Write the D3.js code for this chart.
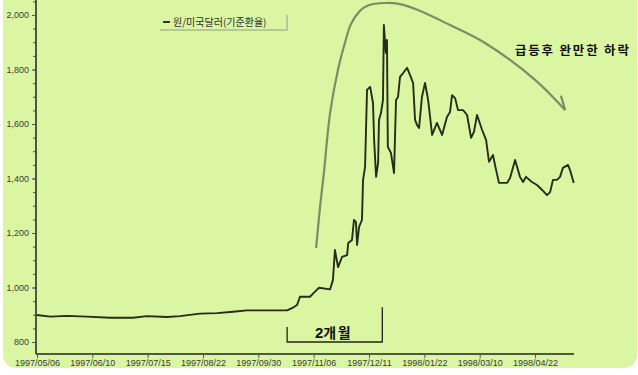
<!DOCTYPE html>
<html>
<head>
<meta charset="utf-8" />
<title>원/미국달러 기준환율</title>
<style>
  html, body { margin: 0; padding: 0; background: #ffffff; }
  #chart { display: block; }
  .tick text { font-family: Arial, "Liberation Sans", sans-serif; font-size: 9px; fill: #3a3a3a; }
  .kr { font-family: "Noto Sans CJK KR", sans-serif; }
</style>
</head>
<body>
<svg id="chart" width="638" height="375"></svg>
<script src="https://d3js.org/d3.v7.min.js"></script>
<script>
// x = trading-day number since 1997/05/06
const tickDays = [0, 25, 50, 75, 100, 125, 150, 175, 200, 225];
const tickLabels = ["1997/05/06", "1997/06/10", "1997/07/15", "1997/08/22", "1997/09/30",
                    "1997/11/06", "1997/12/11", "1998/01/22", "1998/03/10", "1998/04/22"];
const yTicks = [800, 1000, 1200, 1400, 1600, 1800, 2000];

const days = [0, 6, 13.6, 22.6, 33, 43.4, 49.7, 58.7, 64.6, 73.6, 81.3, 88.6, 94.9, 113,
  115.2, 117.5, 118.8, 123.3, 125.6, 127.4, 132.4, 133.7, 134.6, 136, 137.8, 140.1, 140.6,
  142.3, 143.2, 144.1, 144.6, 145.5, 146.8, 147.3, 148.2, 149.1, 150.5, 151.8, 152.3, 153.2,
  154.1, 154.5, 155.4, 156.3, 156.7, 157.6, 158.1, 158.5, 159.9, 161.3, 162.2, 163.1, 164,
  165.4, 167.2, 168.5, 169.9, 170.8, 171.7, 172.6, 173.9, 175.3, 176.7, 178.5, 180.7, 183,
  185.2, 186.6, 187.5, 188.9, 190.2, 192.5, 194.3, 196.1, 197.4, 198.8, 201.1, 202.9, 204.2,
  206, 206.9, 208.7, 212.4, 213.7, 216, 218.2, 219.6, 220.9, 223.6, 225.9, 228.2, 230.4,
  231.8, 233.1, 234.9, 236.3, 237.6, 239.9, 240.8, 242.5];
const rates = [899, 893, 896, 893, 889, 889, 895, 892, 895, 904, 906, 911, 916, 916,
  924, 936, 966, 966, 985, 999, 993, 1028, 1138, 1075, 1112, 1119, 1163,
  1174, 1248, 1240, 1156, 1222, 1248, 1395, 1442, 1725, 1736, 1677, 1541, 1406,
  1457, 1615, 1640, 1688, 1963, 1861, 1908, 1516, 1494, 1420, 1688, 1699, 1773,
  1787, 1806, 1780, 1751, 1615, 1596, 1585, 1699, 1751, 1688, 1560, 1604, 1560,
  1626, 1644, 1706, 1695, 1651, 1651, 1633, 1549, 1571, 1633, 1578, 1541, 1461,
  1486, 1450, 1384, 1384, 1402, 1468, 1406, 1387, 1406, 1387, 1376, 1358, 1339,
  1350, 1395, 1395, 1406, 1439, 1450, 1431, 1384];

// trend arrow drawn in data units
const arcDays = [126.1, 127.8, 129.6, 132.4, 136, 139.2, 141.9, 145.9, 149.5, 157.2, 164, 172.1, 186.6, 202.4, 225, 238.6];
const arcRates = [1145, 1290, 1420, 1640, 1800, 1900, 1968, 2015, 2035, 2044, 2040, 2018, 1963, 1897, 1762, 1651];
const arrowArm = [236.7, 1704];

const svg = d3.select("#chart");

// panel
svg.append("rect")
  .attr("x", 3).attr("y", -12)
  .attr("width", 634).attr("height", 380)
  .attr("rx", 13).attr("ry", 13)
  .attr("fill", "#daf6a2");

const x = d3.scaleLinear().domain([0, 242.6]).range([37, 574]);
const y = d3.scaleLinear().domain([756, 2055]).range([354, 0]);

// minor y ticks
svg.append("g")
  .attr("transform", "translate(36,0)")
  .call(d3.axisLeft(y).tickValues(d3.range(800, 2051, 50)).tickSize(3).tickFormat(""))
  .call(g => g.select(".domain").remove())
  .selectAll("line").attr("stroke", "#555");

const yAxis = svg.append("g")
  .attr("transform", "translate(36,0)")
  .call(d3.axisLeft(y).tickValues(yTicks).tickSize(4).tickPadding(3).tickFormat(d3.format(",")));
yAxis.select(".domain").attr("stroke", "#222").attr("stroke-width", 1.5).attr("d", "M0,0V354");
yAxis.selectAll(".tick line").attr("stroke", "#555");

const xAxis = svg.append("g")
  .attr("transform", "translate(0,354)")
  .call(d3.axisBottom(x).tickValues(tickDays).tickSize(4).tickPadding(2)
    .tickFormat((d, i) => tickLabels[i]));
xAxis.select(".domain").attr("stroke", "#222").attr("stroke-width", 1.5).attr("d", "M36,0H574");
xAxis.selectAll(".tick line").attr("stroke", "#555");

// exchange-rate line
const series = days.map((d, i) => [d, rates[i]]);
svg.append("path")
  .datum(series)
  .attr("fill", "none")
  .attr("stroke", "#252c1b")
  .attr("stroke-width", 1.9)
  .attr("stroke-linejoin", "round")
  .attr("d", d3.line().x(d => x(d[0])).y(d => y(d[1])));

// legend
const lg = svg.append("g");
lg.append("path").attr("d", "M287,15V30H160").attr("fill", "none")
  .attr("stroke", "#a9b996").attr("stroke-width", 1.5);
lg.append("line").attr("x1", 163).attr("x2", 170).attr("y1", 22).attr("y2", 22)
  .attr("stroke", "#333").attr("stroke-width", 2);
lg.append("text").attr("class", "kr").attr("x", 173).attr("y", 26)
  .attr("font-size", 10).attr("fill", "#2e2e2e")
  .text("원/미국달러(기준환율)");

// trend arrow
const arc = arcDays.map((d, i) => [d, arcRates[i]]);
svg.append("path")
  .datum(arc)
  .attr("fill", "none")
  .attr("stroke", "#7b8d66")
  .attr("stroke-width", 2.2)
  .attr("d", d3.line().curve(d3.curveCatmullRom).x(d => x(d[0])).y(d => y(d[1])));
const tip = arc[arc.length - 1];
svg.append("line")
  .attr("x1", x(tip[0])).attr("y1", y(tip[1]))
  .attr("x2", x(arrowArm[0])).attr("y2", y(arrowArm[1]))
  .attr("stroke", "#7b8d66").attr("stroke-width", 2.2);

svg.append("text").attr("class", "kr")
  .attr("x", 515).attr("y", 55)
  .attr("font-size", 12.5).attr("font-weight", "bold").attr("letter-spacing", 1.8)
  .attr("fill", "#111")
  .text("급등후 완만한 하락");

// 2-month bracket
const b0 = 113, b1 = 156;
svg.append("path")
  .attr("fill", "none").attr("stroke", "#222").attr("stroke-width", 1.3)
  .attr("d", `M${x(b0)},${y(855)}V${y(800)}H${x(b1)}V${y(928)}`);
const lbl = svg.append("text").attr("class", "kr")
  .attr("x", 315).attr("y", 338).attr("fill", "#111");
lbl.append("tspan").attr("font-family", "Arial, sans-serif").attr("font-weight", "bold")
  .attr("font-size", 15).text("2");
lbl.append("tspan").attr("font-size", 14).attr("font-weight", "bold").attr("letter-spacing", 1.5).text("개월");
</script>
</body>
</html>
